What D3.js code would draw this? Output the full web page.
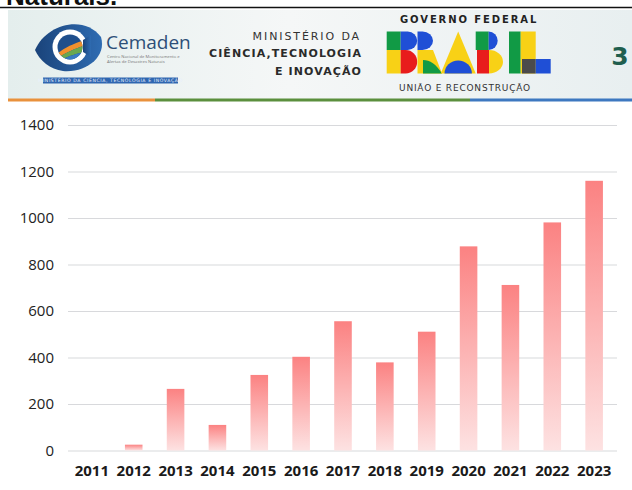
<!DOCTYPE html>
<html>
<head>
<meta charset="utf-8">
<script src="https://cdn.jsdelivr.net/npm/d3@7"></script>
<style>
  html, body { margin: 0; padding: 0; background: #ffffff; }
  svg { display: block; }
</style>
</head>
<body>
<svg id="chart" width="632" height="490"></svg>
<script>
// ---- data ----
const years = ["2011","2012","2013","2014","2015","2016","2017","2018","2019","2020","2021","2022","2023"];
const values = [0, 25, 265, 110, 325, 403, 556, 379, 511, 878, 712, 981, 1160];
const yTicks = [0, 200, 400, 600, 800, 1000, 1200, 1400];

(function () {
const svg = d3.select("#chart");
const defs = svg.append("defs");

// ---------------- header (decorative) ----------------
svg.append("text").attr("x", 6).attr("y", 5)
  .attr("font-family", "Liberation Sans, Arial, sans-serif").attr("font-weight", "bold")
  .attr("font-size", 26).attr("fill", "#111").text("Naturais.");
svg.append("line").attr("x1", 0).attr("x2", 632).attr("y1", 7.5).attr("y2", 7.5)
  .attr("stroke", "#111").attr("stroke-width", 1.6);

const bannerGrad = defs.append("linearGradient").attr("id", "banner").attr("x1", 0).attr("x2", 1).attr("y1", 0).attr("y2", 0);
bannerGrad.append("stop").attr("offset", 0).attr("stop-color", "#e4eeed");
bannerGrad.append("stop").attr("offset", 0.45).attr("stop-color", "#f5f7f7");
bannerGrad.append("stop").attr("offset", 1).attr("stop-color", "#e8eff0");
svg.append("rect").attr("x", 8).attr("y", 10).attr("width", 624).attr("height", 89).attr("fill", "url(#banner)");

svg.append("rect").attr("x", 8).attr("y", 98.5).attr("width", 147).attr("height", 3).attr("fill", "#e9913c");
svg.append("rect").attr("x", 155).attr("y", 98.5).attr("width", 315).attr("height", 3).attr("fill", "#5b8f3d");
svg.append("rect").attr("x", 470).attr("y", 98.5).attr("width", 162).attr("height", 3).attr("fill", "#3d78c0");

// Cemaden logo
const eyeGrad = defs.append("linearGradient").attr("id", "eye").attr("x1", 0).attr("x2", 1).attr("y1", 0).attr("y2", 0);
eyeGrad.append("stop").attr("offset", 0).attr("stop-color", "#1a437a");
eyeGrad.append("stop").attr("offset", 1).attr("stop-color", "#2f6cb2");
svg.append("path").attr("d", "M35,50 C46,24 84,14 101,37 C107,57 86,73 63,71 C50,69 40,61 35,50 Z").attr("fill", "url(#eye)");
svg.append("circle").attr("cx", 70).attr("cy", 47).attr("r", 17.5).attr("fill", "#ffffff");
svg.append("circle").attr("cx", 70).attr("cy", 47).attr("r", 12.5).attr("fill", "#1f4f8c");
defs.append("clipPath").attr("id", "inner").append("circle").attr("cx", 70).attr("cy", 47).attr("r", 12.5);
const inner = svg.append("g").attr("clip-path", "url(#inner)");
inner.append("path").attr("d", "M57,54 C66,46 74,44 84,40 L84,46 C76,48 68,52 57,58 Z").attr("fill", "#f0902e");
inner.append("path").attr("d", "M57,58 C68,52 76,48 84,46 L84,52 C76,54 68,56 57,62 Z").attr("fill", "#6aa84f");
inner.append("path").attr("d", "M57,62 C68,56 76,54 84,52 L84,62 L57,62 Z").attr("fill", "#3a7cc2");
svg.append("path").attr("d", "M83,40 L91,35 L91,57 L83,52 Z").attr("fill", "url(#eye)");
svg.append("text").attr("x", 106).attr("y", 48.5)
  .attr("font-family", "Open Sans, sans-serif").attr("font-size", 19).attr("fill", "#2d4f78").text("Cemaden");
svg.append("text").attr("x", 107).attr("y", 57.5).attr("font-family", "Open Sans, sans-serif")
  .attr("font-size", 4.2).attr("fill", "#777").text("Centro Nacional de Monitoramento e");
svg.append("text").attr("x", 107).attr("y", 62.5).attr("font-family", "Open Sans, sans-serif")
  .attr("font-size", 4.2).attr("fill", "#777").text("Alertas de Desastres Naturais");
svg.append("rect").attr("x", 43).attr("y", 77.5).attr("width", 135).attr("height", 6).attr("fill", "#2f66b0");
svg.append("text").attr("x", 110.5).attr("y", 82.3).attr("text-anchor", "middle")
  .attr("font-family", "DejaVu Sans, sans-serif").attr("font-size", 4.6).attr("letter-spacing", 0.6)
  .attr("fill", "#e8f0ff").text("MINISTÉRIO DA CIÊNCIA, TECNOLOGIA E INOVAÇÃO");

// Ministério text
const minFont = "DejaVu Sans, sans-serif";
svg.append("text").attr("x", 361).attr("y", 39.5).attr("text-anchor", "end")
  .attr("font-family", minFont).attr("font-size", 11).attr("letter-spacing", 1.9).attr("fill", "#333").text("MINISTÉRIO DA");
svg.append("text").attr("x", 362).attr("y", 57).attr("text-anchor", "end")
  .attr("font-family", minFont).attr("font-weight", "bold").attr("font-size", 11).attr("letter-spacing", 1.1).attr("fill", "#2a2a2a").text("CIÊNCIA,TECNOLOGIA");
svg.append("text").attr("x", 362).attr("y", 75).attr("text-anchor", "end")
  .attr("font-family", minFont).attr("font-weight", "bold").attr("font-size", 11).attr("letter-spacing", 1.1).attr("fill", "#2a2a2a").text("E INOVAÇÃO");

// Governo Federal
svg.append("text").attr("x", 400).attr("y", 22.5)
  .attr("font-family", minFont).attr("font-weight", "bold").attr("font-size", 10).attr("letter-spacing", 1.9).attr("fill", "#222").text("GOVERNO FEDERAL");
svg.append("text").attr("x", 399).attr("y", 91)
  .attr("font-family", minFont).attr("font-size", 9).attr("letter-spacing", 0.8).attr("fill", "#333").text("UNIÃO E RECONSTRUÇÃO");

// BRASIL logo blocks
const G = "#119a45", B = "#1f4fd6", Y = "#f8d116", R = "#e81c1c", K = "#4b4b4b";
const logo = svg.append("g");
const lt = 31.5, lm = 50, lb = 73.5;
// B
logo.append("rect").attr("x", 386.7).attr("y", lt).attr("width", 14).attr("height", lm - lt).attr("fill", G);
logo.append("path").attr("d", `M400.7,${lt} h7 a9.5,${(lm - lt) / 2} 0 0 1 0,${lm - lt} h-7 Z`).attr("fill", B);
logo.append("rect").attr("x", 386.7).attr("y", lm).attr("width", 14).attr("height", lb - lm).attr("fill", Y);
logo.append("path").attr("d", `M400.7,${lm} h5 a11.5,${(lb - lm) / 2} 0 0 1 0,${lb - lm} h-5 Z`).attr("fill", R);
// R
logo.append("path").attr("d", `M417.5,${lt} h5 a10.5,${(lm - lt) / 2} 0 0 1 0,${lm - lt} h-5 Z`).attr("fill", B);
logo.append("path").attr("d", `M417.5,${lm} L433,${lm} L442,${lb} L417.5,${lb} Z`).attr("fill", Y);
logo.append("path").attr("d", `M423,${lb} L423,60 C430,60 436,64 442,${lb} Z`).attr("fill", G);
// A
logo.append("path").attr("d", `M440.7,${lb} L458.2,${lt} L475.7,${lb} Z`).attr("fill", Y);
logo.append("path").attr("d", `M444.5,${lb} a13.7,13 0 0 1 27.4,0 Z`).attr("fill", B);
// S
logo.append("rect").attr("x", 475.7).attr("y", lt).attr("width", 13).attr("height", lm - lt).attr("fill", G);
logo.append("path").attr("d", `M488.7,${lt} a9,${(lm - lt) / 2} 0 0 1 0,${lm - lt} Z`).attr("fill", B);
logo.append("rect").attr("x", 477).attr("y", lm).attr("width", 12).attr("height", lb - lm).attr("fill", R);
logo.append("path").attr("d", `M489,${lm} a14,${(lb - lm) / 2} 0 0 1 0,${lb - lm} Z`).attr("fill", Y);
// I
logo.append("rect").attr("x", 509).attr("y", lt).attr("width", 11.7).attr("height", lb - lt).attr("fill", G);
// L
logo.append("rect").attr("x", 520.7).attr("y", lt).attr("width", 15).attr("height", lb - lt).attr("fill", Y);
logo.append("rect").attr("x", 522).attr("y", 59).attr("width", 13.7).attr("height", lb - 59).attr("fill", K);
logo.append("rect").attr("x", 535.7).attr("y", 59).attr("width", 15).attr("height", lb - 59).attr("fill", B);

// page number
svg.append("text").attr("x", 620).attr("y", 65).attr("text-anchor", "middle")
  .attr("font-family", minFont).attr("font-weight", "bold").attr("font-size", 25).attr("fill", "#1f5e4e").text("3");

// ---------------- chart ----------------
const y = d3.scaleLinear().domain([0, 1400]).range([450.5, 125]);
const x = d3.scaleBand().domain(years).range([68, 618]).paddingInner(0.58).paddingOuter(0.36);
const gridX0 = 68, gridX1 = 617;

const gridAxis = d3.axisLeft(y).tickValues(yTicks).tickSize(-(gridX1 - gridX0)).tickFormat("");
const grid = svg.append("g").attr("transform", `translate(${gridX0},0)`).call(gridAxis);
grid.select(".domain").remove();
grid.selectAll(".tick line").attr("stroke", "#d8d9dc").attr("stroke-width", 1.2);

const yAxis = d3.axisLeft(y).tickValues(yTicks).tickSize(0).tickPadding(0).tickFormat(d3.format("d"));
const ya = svg.append("g").attr("transform", "translate(54,0)").call(yAxis);
ya.select(".domain").remove();
ya.selectAll("text").attr("font-family", "Open Sans, sans-serif").attr("font-size", 15).attr("fill", "#222");

const barGrad = defs.append("linearGradient").attr("id", "barGrad").attr("x1", 0).attr("x2", 0).attr("y1", 0).attr("y2", 1);
barGrad.append("stop").attr("offset", 0).attr("stop-color", "#fb8282");
barGrad.append("stop").attr("offset", 1).attr("stop-color", "#fde2e2");

svg.append("g").selectAll("rect").data(years.map((yr, i) => ({ yr, v: values[i] }))).join("rect")
  .attr("x", d => x(d.yr))
  .attr("width", x.bandwidth())
  .attr("y", d => y(d.v))
  .attr("height", d => y(0) - y(d.v))
  .attr("fill", "url(#barGrad)");

const xAxis = d3.axisBottom(x).tickSize(0).tickPadding(0);
const xa = svg.append("g").attr("transform", "translate(0,465)").call(xAxis);
xa.select(".domain").remove();
xa.selectAll("text").attr("font-family", "Open Sans, sans-serif").attr("font-weight", "bold")
  .attr("font-size", 15).attr("fill", "#1a1a1a").attr("dy", "0.71em");
})();
</script>
</body>
</html>
